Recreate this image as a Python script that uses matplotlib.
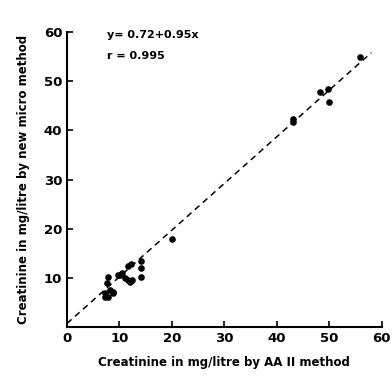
import numpy as np
import matplotlib.pyplot as plt

# creatinine (mg/litre): AA II method vs new micro method
aa2 = [7.2, 7.3, 7.6, 7.8, 7.8, 8.2, 8.8, 8.8, 9.7, 10.1, 10.5, 11.0, 11.6, 11.6,
       12.0, 12.2, 12.4, 14.1, 14.1, 14.1, 20.0, 43.0, 43.0, 48.3, 49.8, 50.0, 55.9]
micro = [6.1, 6.9, 8.9, 10.1, 6.1, 7.5, 6.9, 7.1, 10.5, 10.5, 10.9, 9.9, 12.5, 9.5,
         9.1, 12.9, 9.5, 13.5, 12.1, 10.1, 18.0, 42.4, 41.8, 47.9, 48.5, 45.7, 55.0]

intercept, slope = 0.72, 0.95
r_value = 0.995

fig = plt.figure(figsize=(3.92, 3.78), dpi=100)
ax = fig.add_axes([0.171, 0.135, 0.803, 0.78])

xl = np.array([0, 58])
ax.plot(xl, intercept + slope * xl, ls=(0, (4, 3)), color='black', lw=1.1)
ax.scatter(aa2, micro, s=14, color='black', zorder=3)

ax.set_xlim(0, 60)
ax.set_ylim(0, 60)
ax.set_xticks(range(0, 61, 10))
ax.set_yticks(range(10, 61, 10))
ax.spines['top'].set_visible(False)
ax.spines['right'].set_visible(False)
ax.spines['left'].set_linewidth(1.5)
ax.spines['bottom'].set_linewidth(1.5)
ax.tick_params(direction='in', length=4, width=1.2, labelsize=9.5)
for lab in ax.get_xticklabels() + ax.get_yticklabels():
    lab.set_fontweight('bold')

ax.text(7.6, 59.4, f'y= {intercept}+{slope}x', fontsize=8, fontweight='bold', va='center')
ax.text(7.6, 55.2, f'r = {r_value}', fontsize=8, fontweight='bold', va='center')

ax.set_xlabel('Creatinine in mg/litre by AA II method', fontsize=8.5, fontweight='bold', labelpad=8)
ax.set_ylabel('Creatinine in mg/litre by new micro method', fontsize=8.5, fontweight='bold', labelpad=10)

fig.savefig('out.png', dpi=100)
